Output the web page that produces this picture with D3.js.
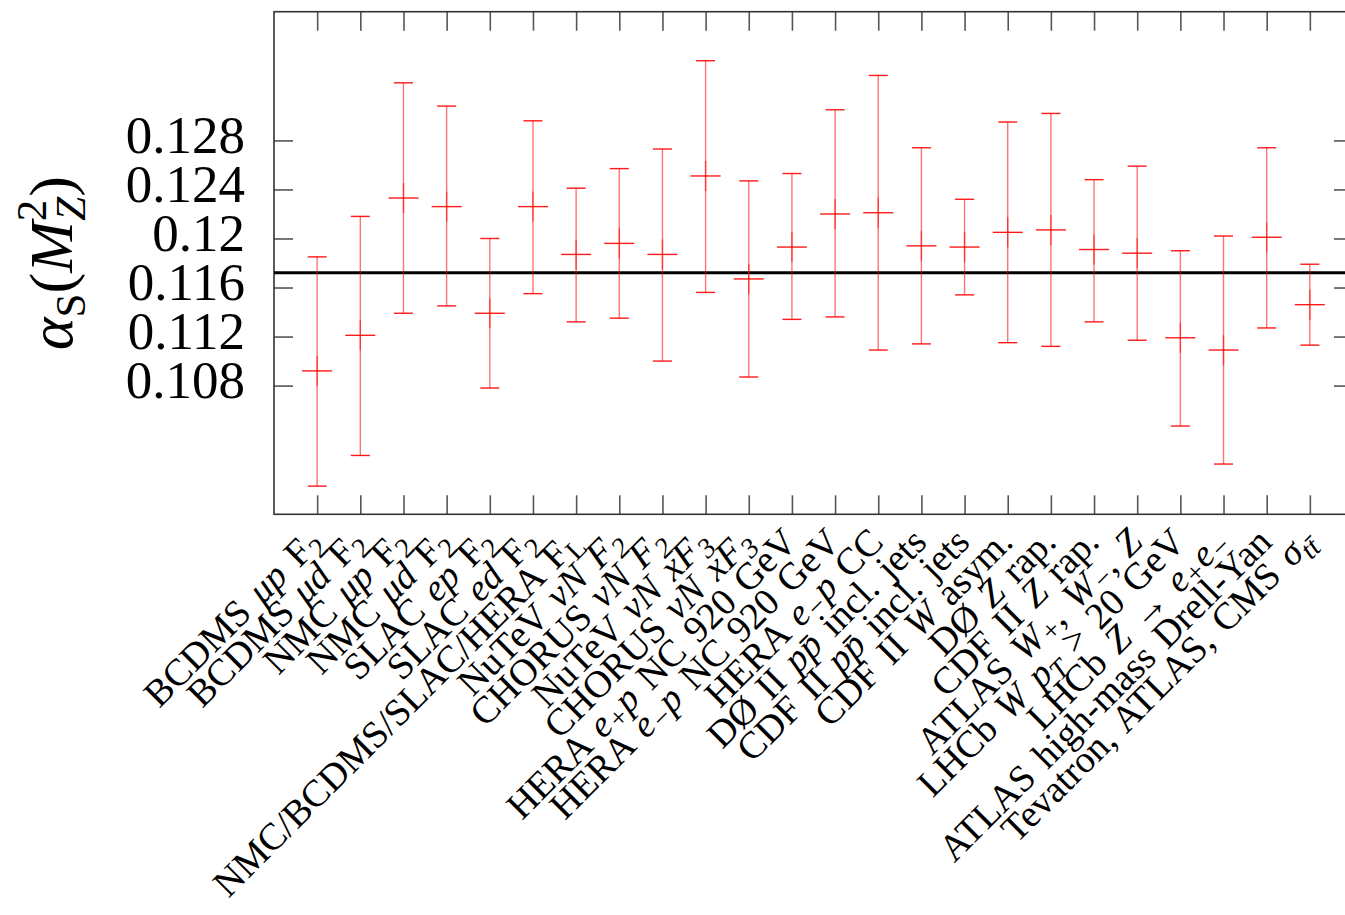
<!DOCTYPE html>
<html>
<head>
<meta charset="utf-8">
<script src="https://cdn.jsdelivr.net/npm/d3@7"></script>
<style>
  body { margin: 0; background: #fff; }
  svg { display: block; }
</style>
</head>
<body>
<div id="chart"></div>
<script>
// labels use a tiny markup: $..$ italic, _{..} subscript, ^{..} superscript
const categories = [
  "BCDMS $μp$ F_{2}",
  "BCDMS $μd$ F_{2}",
  "NMC $μp$ F_{2}",
  "NMC $μd$ F_{2}",
  "SLAC $ep$ F_{2}",
  "SLAC $ed$ F_{2}",
  "NMC/BCDMS/SLAC/HERA F_{L}",
  "NuTeV $νN$ $F_{2}$",
  "CHORUS $νN$ $F_{2}$",
  "NuTeV $νN$ $xF_{3}$",
  "CHORUS $νN$ $xF_{3}$",
  "HERA $e^{+}p$ NC 920 GeV",
  "HERA $e^{−}p$ NC 920 GeV",
  "HERA $e^{−}p$ CC",
  "DØ II $pp̄$ incl. jets",
  "CDF II $pp̄$ incl. jets",
  "CDF II $W$ asym.",
  "DØ $Z$ rap.",
  "CDF II $Z$ rap.",
  "ATLAS $W^{+}$, $W^{−}$, $Z$",
  "LHCb $W$ $p_{T}$ > 20 GeV",
  "LHCb $Z$ → $e^{+}e^{−}$",
  "ATLAS high-mass Drell-Yan",
  "Tevatron, ATLAS, CMS $σ_{tt̄}$"
];

const alphaS = [0.1092, 0.1121, 0.1233, 0.1226, 0.1139, 0.1226, 0.1187, 0.1196,
                0.1187, 0.1251, 0.1167, 0.1193, 0.1220, 0.1221, 0.1194, 0.1193,
                0.1205, 0.1207, 0.1191, 0.1188, 0.1119, 0.1109, 0.1201, 0.1146];
const upper  = [0.1185, 0.1218, 0.1327, 0.1308, 0.1200, 0.1296, 0.1241, 0.1257,
                0.1273, 0.1345, 0.1247, 0.1253, 0.1305, 0.1333, 0.1274, 0.1232,
                0.1295, 0.1302, 0.1248, 0.1259, 0.1190, 0.1202, 0.1274, 0.1179];
const lower  = [0.0998, 0.1023, 0.1139, 0.1145, 0.1078, 0.1155, 0.1132, 0.1135,
                0.1100, 0.1156, 0.1087, 0.1134, 0.1136, 0.1109, 0.1114, 0.1154,
                0.1115, 0.1112, 0.1132, 0.1117, 0.1047, 0.1016, 0.1127, 0.1113];

const worldAverage = 0.1172;
const yTicks = [0.108, 0.112, 0.116, 0.12, 0.124, 0.128];

const width = 1345, height = 915;
const margin = {left: 274, top: 11.7, bottom: 514.3, right: 1353};

const svg = d3.select("#chart").append("svg")
    .attr("width", width)
    .attr("height", height);

const x = d3.scaleLinear().domain([0, 25]).range([margin.left, margin.right]);
const y = d3.scaleLinear().domain([0.0975, 0.1385]).range([margin.bottom, margin.top]);

const idx = d3.range(1, 25);
const tickLen = 19;

// axes with inward ticks on all four sides
function styleAxis(g) {
  g.select(".domain").remove();
  g.selectAll(".tick line").attr("stroke", "#555").attr("stroke-width", 1.6);
}

svg.append("g")
    .attr("transform", `translate(${margin.left},0)`)
    .call(d3.axisLeft(y).tickValues(yTicks).tickSizeInner(-tickLen).tickSizeOuter(0)
      .tickPadding(29).tickFormat(d => String(d)))
    .call(styleAxis)
    .call(g => g.selectAll(".tick text")
      .attr("font-family", "Liberation Serif, serif")
      .attr("font-size", 53)
      .attr("fill", "#000")
      .attr("dy", "0.23em"));

svg.append("g")
    .attr("transform", `translate(${margin.right},0)`)
    .call(d3.axisRight(y).tickValues(yTicks).tickSizeInner(-tickLen).tickSizeOuter(0).tickFormat(""))
    .call(styleAxis);

svg.append("g")
    .attr("transform", `translate(0,${margin.top})`)
    .call(d3.axisTop(x).tickValues(idx).tickSizeInner(-tickLen).tickSizeOuter(0).tickFormat(""))
    .call(styleAxis);

svg.append("g")
    .attr("transform", `translate(0,${margin.bottom})`)
    .call(d3.axisBottom(x).tickValues(idx).tickSizeInner(-tickLen).tickSizeOuter(0).tickFormat(""))
    .call(styleAxis);

// frame
svg.append("rect")
    .attr("x", margin.left)
    .attr("y", margin.top)
    .attr("width", margin.right - margin.left)
    .attr("height", margin.bottom - margin.top)
    .attr("fill", "none")
    .attr("stroke", "#333")
    .attr("stroke-width", 1.6);

// world average line
svg.append("line")
    .attr("x1", margin.left).attr("x2", margin.right)
    .attr("y1", y(worldAverage)).attr("y2", y(worldAverage))
    .attr("stroke", "#000")
    .attr("stroke-width", 3);

// error bars with plus markers
const bars = svg.append("g").selectAll("g")
    .data(idx.map((i, k) => ({i, v: alphaS[k], lo: lower[k], hi: upper[k]})))
    .join("g");

const vStyle = s => s.attr("stroke", "#ff0000").attr("stroke-opacity", 0.55).attr("stroke-width", 1.4);
const hStyle = s => s.attr("stroke", "#ff0000").attr("stroke-opacity", 0.9).attr("stroke-width", 1.4);

bars.append("line")
    .attr("x1", d => x(d.i)).attr("x2", d => x(d.i))
    .attr("y1", d => y(d.lo)).attr("y2", d => y(d.hi))
    .call(vStyle);
bars.append("line")
    .attr("x1", d => x(d.i)).attr("x2", d => x(d.i))
    .attr("y1", d => y(d.v) - 15).attr("y2", d => y(d.v) + 15)
    .call(vStyle);
bars.append("line")
    .attr("x1", d => x(d.i) - 15).attr("x2", d => x(d.i) + 15)
    .attr("y1", d => y(d.v)).attr("y2", d => y(d.v))
    .call(hStyle);
["lo", "hi"].forEach(key => {
  bars.append("line")
      .attr("x1", d => x(d.i) - 9.5).attr("x2", d => x(d.i) + 9.5)
      .attr("y1", d => y(d[key])).attr("y2", d => y(d[key]))
      .call(hStyle);
});

// parse the label markup into segments
function parseLabel(s) {
  const segs = [];
  let italic = false, shift = 0, buf = "";
  const flush = () => { if (buf) segs.push({t: buf, italic, shift}); buf = ""; };
  for (let k = 0; k < s.length; k++) {
    const c = s[k];
    if (c === "$") { flush(); italic = !italic; }
    else if ((c === "_" || c === "^") && s[k + 1] === "{") { flush(); shift = c === "_" ? 1 : 2; k++; }
    else if (c === "}") { flush(); shift = 0; }
    else buf += c;
  }
  flush();
  return segs;
}

const labelSize = 38, subSize = 28;

function richText(text, segs, size, small) {
  let cur = 0;
  segs.forEach(sg => {
    // superscripts come out low in the original, close to subscripts
    const off = sg.shift === 1 ? 0.2 * size : sg.shift === 2 ? 0.12 * size : 0;
    text.append("tspan")
        .attr("dy", off - cur)
        .attr("font-size", sg.shift ? small : size)
        .attr("font-style", sg.italic ? "italic" : "normal")
        .text(sg.t);
    cur = off;
  });
}

const labels = svg.append("g")
    .attr("font-family", "Liberation Serif, serif")
    .attr("word-spacing", 4)
    .attr("fill", "#000");

categories.forEach((c, k) => {
  const t = labels.append("text")
      .attr("text-anchor", "end")
      .attr("transform", `translate(${x(k + 1) + 7},544) rotate(-45)`);
  richText(t, parseLabel(c), labelSize, subSize);
});

// y axis title
const title = svg.append("text")
    .attr("font-family", "Liberation Serif, serif")
    .attr("font-size", 62)
    .attr("text-anchor", "middle")
    .attr("transform", "translate(72,263) rotate(-90)");
title.append("tspan").attr("font-style", "italic").text("α");
title.append("tspan").attr("font-size", 43).attr("dy", 13).text("S");
title.append("tspan").attr("dy", -13).text("(");
title.append("tspan").attr("font-style", "italic").text("M");
title.append("tspan").attr("font-size", 43).attr("dy", -26).text("2");
title.append("tspan").attr("font-size", 43).attr("font-style", "italic").attr("dx", -21).attr("dy", 39).text("Z");
title.append("tspan").attr("dy", -13).text(")");
</script>
</body>
</html>
